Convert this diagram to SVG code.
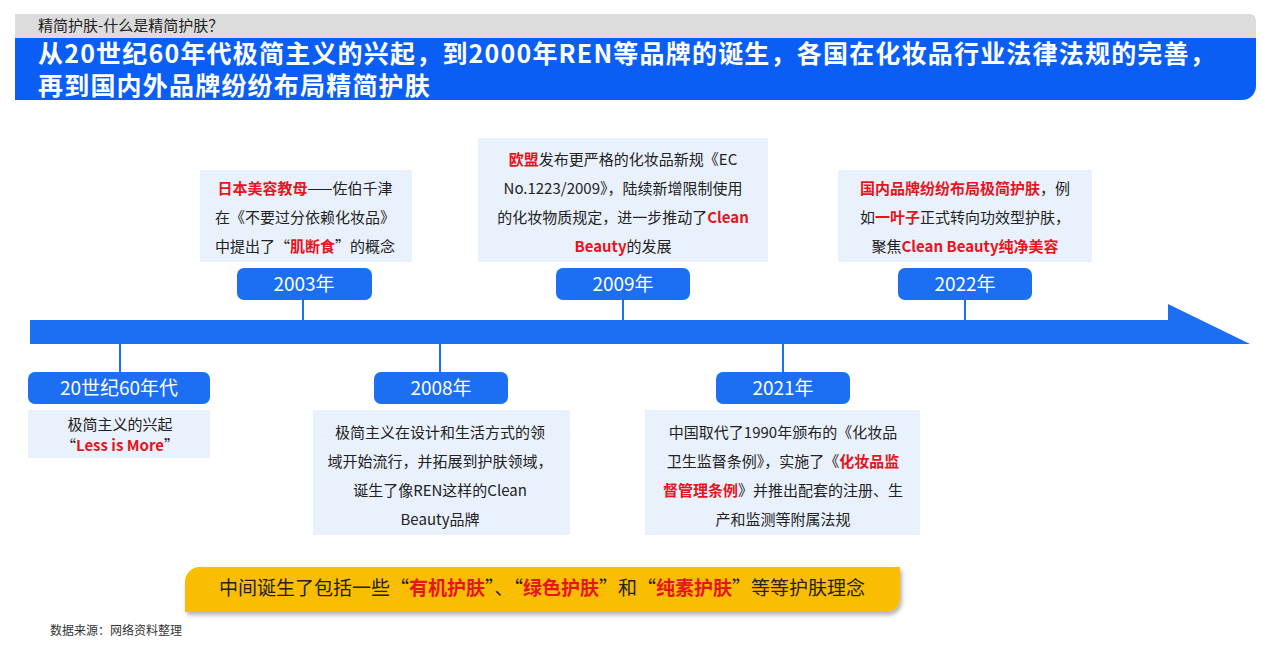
<svg xmlns="http://www.w3.org/2000/svg" width="1280" height="645" viewBox="0 0 1280 645">
<style>
text{font-family:"Noto Sans CJK SC","Liberation Sans",sans-serif}
.card{fill:#e9f1fc}
.yb{fill:#1c6ef2}
.yt{fill:#fff;font-size:19px;text-anchor:middle}
.t{fill:#222;font-size:15px;text-anchor:middle}
.r{fill:#e8141c;font-weight:bold}
.stem{stroke:#1c6ef2;stroke-width:2}
</style>
<defs><filter id="sh" x="-5%" y="-20%" width="110%" height="150%"><feDropShadow dx="2" dy="3" stdDeviation="2" flood-color="#000" flood-opacity="0.3"/></filter></defs>
<rect width="1280" height="645" fill="#fff"/>
<g id="header">
<path d="M15 14 H1250 a6 6 0 0 1 6 6 V40 H15 Z" fill="#dcdcdc"/>
<path d="M15 38 H1256 V86 a14 14 0 0 1 -14 14 H15 Z" fill="#0a5ef5"/>
<text x="38" y="31" font-size="15" fill="#222">精简护肤-什么是精简护肤？</text>
<text x="38" y="63" font-size="25" font-weight="bold" fill="#fff" letter-spacing="1.2">从20世纪60年代极简主义的兴起，到2000年REN等品牌的诞生，各国在化妆品行业法律法规的完善，</text>
<text x="38" y="95" font-size="25" font-weight="bold" fill="#fff" letter-spacing="1.2">再到国内外品牌纷纷布局精简护肤</text>
</g>
<g id="connectors">
<polygon points="30,320 1168,320 1168,304 1250,344 30,344" fill="#1c6ef2"/>
<line class="stem" x1="303" y1="300" x2="303" y2="321"/>
<line class="stem" x1="623" y1="300" x2="623" y2="321"/>
<line class="stem" x1="965" y1="300" x2="965" y2="321"/>
<line class="stem" x1="120" y1="343" x2="120" y2="372"/>
<line class="stem" x1="440" y1="343" x2="440" y2="372"/>
<line class="stem" x1="783" y1="343" x2="783" y2="372"/>
</g>
<g id="n2003">
<rect class="card" x="200" y="170" width="212" height="92"/>
<text class="t" x="305" y="194"><tspan class="r">日本美容教母</tspan>——佐伯千津</text>
<text class="t" x="305" y="223">在《不要过分依赖化妆品》</text>
<text class="t" x="305" y="252">中提出了“<tspan class="r">肌断食</tspan>”的概念</text>
<rect class="yb" x="237" y="268" width="135" height="32" rx="7"/>
<text class="yt" x="304" y="291">2003年</text>
</g>
<g id="n2009">
<rect class="card" x="478" y="138" width="290" height="124"/>
<text class="t" x="623" y="165"><tspan class="r">欧盟</tspan>发布更严格的化妆品新规《EC</text>
<text class="t" x="623" y="194">No.1223/2009》，陆续新增限制使用</text>
<text class="t" x="623" y="223">的化妆物质规定，进一步推动了<tspan class="r">Clean</tspan></text>
<text class="t" x="623" y="252"><tspan class="r">Beauty</tspan>的发展</text>
<rect class="yb" x="556" y="268" width="134" height="32" rx="7"/>
<text class="yt" x="623" y="291">2009年</text>
</g>
<g id="n2022">
<rect class="card" x="838" y="170" width="254" height="92"/>
<text class="t" x="965" y="194"><tspan class="r">国内品牌纷纷布局极简护肤</tspan>，例</text>
<text class="t" x="965" y="223">如<tspan class="r">一叶子</tspan>正式转向功效型护肤，</text>
<text class="t" x="965" y="252">聚焦<tspan class="r">Clean Beauty纯净美容</tspan></text>
<rect class="yb" x="898" y="268" width="134" height="32" rx="7"/>
<text class="yt" x="965" y="291">2022年</text>
</g>
<g id="n1960">
<rect class="yb" x="28" y="372" width="182" height="32" rx="7"/>
<text class="yt" x="119" y="395">20世纪60年代</text>
<rect class="card" x="28" y="410" width="182" height="48"/>
<text class="t" x="120" y="430">极简主义的兴起</text>
<text class="t" x="120" y="451">“<tspan class="r">Less is More</tspan>”</text>
</g>
<g id="n2008">
<rect class="yb" x="374" y="372" width="134" height="32" rx="7"/>
<text class="yt" x="441" y="395">2008年</text>
<rect class="card" x="313" y="410" width="257" height="125"/>
<text class="t" x="440" y="438">极简主义在设计和生活方式的领</text>
<text class="t" x="440" y="467">域开始流行，并拓展到护肤领域，</text>
<text class="t" x="440" y="496">诞生了像REN这样的Clean</text>
<text class="t" x="440" y="525">Beauty品牌</text>
</g>
<g id="n2021">
<rect class="yb" x="716" y="372" width="134" height="32" rx="7"/>
<text class="yt" x="783" y="395">2021年</text>
<rect class="card" x="645" y="410" width="275" height="125"/>
<text class="t" x="783" y="438">中国取代了1990年颁布的《化妆品</text>
<text class="t" x="783" y="467">卫生监督条例》，实施了《<tspan class="r">化妆品监</tspan></text>
<text class="t" x="783" y="496"><tspan class="r">督管理条例</tspan>》并推出配套的注册、生</text>
<text class="t" x="783" y="525">产和监测等附属法规</text>
</g>
<g id="summary">
<path d="M200 567 H900 V598 a14 14 0 0 1 -14 14 H185 V582 a15 15 0 0 1 15 -15 Z" fill="#fbbd00" filter="url(#sh)"/>
<text x="542" y="595" font-size="19" fill="#222" text-anchor="middle">中间诞生了包括一些“<tspan class="r">有机护肤</tspan>”、“<tspan class="r">绿色护肤</tspan>”和“<tspan class="r">纯素护肤</tspan>”等等护肤理念</text>
</g>
<text x="50" y="635" font-size="12" fill="#333">数据来源：网络资料整理</text>
</svg>
